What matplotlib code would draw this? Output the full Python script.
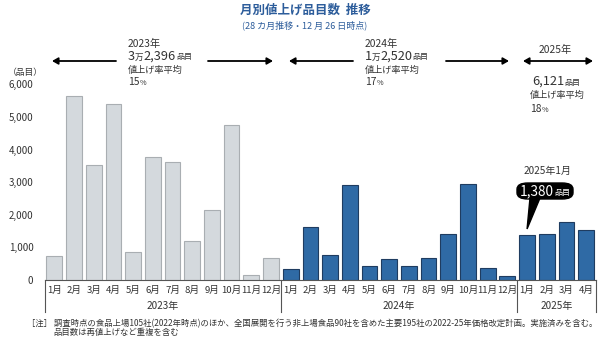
import matplotlib
matplotlib.use("Agg")
import matplotlib.pyplot as plt
from matplotlib.patches import FancyBboxPatch, Polygon, FancyArrowPatch
from matplotlib.transforms import blended_transform_factory

plt.rcParams['font.family'] = ['Noto Sans CJK JP', 'DejaVu Sans']

# 月別値上げ品目数
months = ["1月", "2月", "3月", "4月", "5月", "6月", "7月", "8月", "9月", "10月", "11月", "12月"]
items_2023 = [740, 5640, 3520, 5410, 850, 3780, 3610, 1200, 2160, 4750, 140, 670]
items_2024 = [330, 1640, 780, 2910, 430, 630, 430, 670, 1420, 2930, 360, 110]
items_2025 = [1380, 1410, 1790, 1541]
years = ["2023年", "2024年", "2025年"]
yticks = [0, 1000, 2000, 3000, 4000, 5000, 6000]

W, H = 600, 344
TXT = "#333333"
BLUE_T = "#2d5d9b"


def fx(px):
    return px / W


def fy(py):
    return 1 - py / H


fig = plt.figure(figsize=(6, 3.44), dpi=100)
ax = fig.add_axes([fx(44.5), fy(280), (596 - 44.5) / W, (280 - 84.3) / H])

values = items_2023 + items_2024 + items_2025
labels = months + months + months[:len(items_2025)]
colors = ["#d4d9dd"] * 12 + ["#2f6aa5"] * 12 + ["#2f6aa5"] * len(items_2025)
edges = ["#a9aeb2"] * 12 + ["#1f3c60"] * (12 + len(items_2025))
x = list(range(len(values)))
ax.bar(x, values, width=0.8, color=colors, edgecolor=edges, linewidth=0.8, zorder=2)

ax.set_xlim(-0.5, len(values) - 0.5)
ax.set_ylim(0, 6000)
ax.set_yticks(yticks)
ax.set_yticklabels([f"{v:,}" for v in yticks], fontsize=7, color=TXT)
ax.tick_params(axis='y', length=0, pad=8)
ax.set_xticks([])
for s in ["top", "right", "left"]:
    ax.spines[s].set_visible(False)
ax.spines["bottom"].set_color("#555555")
ax.spines["bottom"].set_linewidth(0.8)

# 月・年のラベル枠
tr = blended_transform_factory(ax.transData, ax.transAxes)
ybot = (280 - 312) / (280 - 84.3)
ymon = (280 - 290) / (280 - 84.3)
yyr = (280 - 306) / (280 - 84.3)
bounds = [-0.5, 11.5, 23.5, len(values) - 0.5]
for b in bounds:
    ax.plot([b, b], [0, ybot], transform=tr, color="#555555", lw=0.8, clip_on=False)
for i, lab in enumerate(labels):
    ax.text(i, ymon, lab, transform=tr, ha='center', va='center', fontsize=6.9, color=TXT)
for k, yr in enumerate(years):
    ax.text((bounds[k] + bounds[k + 1]) / 2, yyr, yr, transform=tr, ha='center', va='center',
            fontsize=7.2, color=TXT)

fig.text(fx(8), fy(72), "（品目）", fontsize=6.3, color=TXT, va='center', ha='left')

# タイトル
fig.text(fx(305), fy(10), "月別値上げ品目数  推移", fontsize=9, color=BLUE_T, ha='center', va='center',
         fontweight='bold')
fig.text(fx(305), fy(25), "(28 カ月推移・12 月 26 日時点)", fontsize=6.5, color=BLUE_T, ha='center',
         va='center')

fig.canvas.draw()
renderer = fig.canvas.get_renderer()


def pieces(px, py, parts, color=TXT):
    # parts: (文字列, サイズ) を横に並べる
    cur = px
    for s, size in parts:
        t = fig.text(fx(cur), fy(py), s, fontsize=size, color=color, ha='left', va='baseline')
        cur += t.get_window_extent(renderer).width


def arrow(x0, x1, py, both=False):
    style = '<|-|>' if both else '-|>'
    fig.patches.append(FancyArrowPatch(
        (fx(x0), fy(py)), (fx(x1), fy(py)), transform=fig.transFigure,
        arrowstyle=style + ',head_length=3.5,head_width=2.0', color='black', lw=1.3,
        shrinkA=0, shrinkB=0))


# 2023年
arrow(116, 52, 61)
arrow(208, 273, 61)
pieces(128, 47, [("2023年", 7.4)])
pieces(128, 59.5, [("3", 9.2), ("万", 6.2), ("2,396", 9.2), ("品目", 5.8)])
pieces(128, 73, [("値上げ率平均", 6.6)])
pieces(128, 85, [("15", 7.4), ("%", 5.2)])

# 2024年
arrow(353, 289, 61)
arrow(446, 509, 61)
pieces(365, 47, [("2024年", 7.4)])
pieces(365, 59.5, [("1", 9.2), ("万", 6.2), ("2,520", 9.2), ("品目", 5.8)])
pieces(365, 73, [("値上げ率平均", 6.6)])
pieces(365, 85, [("17", 7.4), ("%", 5.2)])

# 2025年
arrow(523, 593, 61, both=True)
fig.text(fx(555), fy(50), "2025年", fontsize=7.4, color=TXT, ha='center', va='center')
pieces(532, 85, [("6,121", 9.2), ("品目", 5.8)])
pieces(530, 97.5, [("値上げ率平均", 6.6)])
pieces(530, 112, [("18", 7.4), ("%", 5.2)])

# 2025年1月の吹き出し
fig.text(fx(547), fy(171), "2025年1月", fontsize=7.2, color=TXT, ha='center', va='center')
box = FancyBboxPatch((fx(517), fy(199)), fx(573) - fx(517), fy(183) - fy(199),
                     boxstyle="round,pad=0,rounding_size=0.018", transform=fig.transFigure,
                     fc='black', ec='black')
fig.patches.append(box)
tip = fig.transFigure.inverted().transform(ax.transData.transform((24, items_2025[0])))
tip_px = (tip[0] * W, (1 - tip[1]) * H - 6)
fig.patches.append(Polygon([(fx(530), fy(198)), (fx(540), fy(198)), (fx(tip_px[0]), fy(tip_px[1]))],
                           closed=True, transform=fig.transFigure, fc='black', ec='black'))
pieces(520, 195.5, [("1,380", 9.8), ("品目", 5.8)], color='white')

# 注
fig.text(fx(27), fy(324), "［注］ 調査時点の食品上場105社(2022年時点)のほか、全国展開を行う非上場食品90社を含めた主要195社の2022-25年価格改定計画。実施済みを含む。",
         fontsize=6.0, color=TXT, ha='left', va='center')
fig.text(fx(53), fy(333), "品目数は再値上げなど重複を含む", fontsize=6.0, color=TXT, ha='left', va='center')

fig.savefig("out.png", dpi=100)
